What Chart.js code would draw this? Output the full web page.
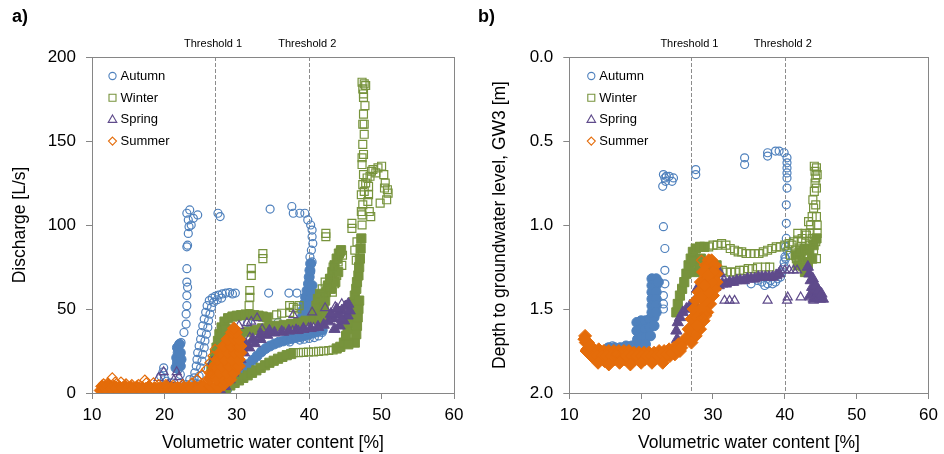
<!DOCTYPE html>
<html>
<head>
<meta charset="utf-8">
<script src="https://cdn.jsdelivr.net/npm/chart.js@4.4.0/dist/chart.umd.min.js"></script>
<style>
  html, body { margin: 0; padding: 0; background: #fff; }
  #wrap { position: relative; width: 944px; height: 454px; }
  canvas { position: absolute; top: 0; }
  #chartA { left: 0; }
  #chartB { left: 472px; }
</style>
</head>
<body>
<div id="wrap">
  <canvas id="chartA" width="472" height="454"></canvas>
  <canvas id="chartB" width="472" height="454"></canvas>
</div>
<script>
// ---------- axes / labels ----------
const seasons = ['Autumn', 'Winter', 'Spring', 'Summer'];
const xTicks = [10, 20, 30, 40, 50, 60];
const yTicksA = [0, 50, 100, 150, 200];
const yTicksB = [0, 0.5, 1, 1.5, 2];
const thresholds = [27, 40];
const thresholdLabels = ['Threshold 1', 'Threshold 2'];

// ---------- a) discharge vs soil moisture ----------
const autumnA = [
  [11.5,1],[12.2,0.5],[14,1],[16,1.5],[17,2],[18.5,3],[19.5,10],[19.8,12.5],[19.9,15],[20,9],[20.3,7],[20.5,4],[21,6],[21.9,14],[22.2,11],[23,5],[23.5,8],
  [22.3,30],[22.7,36],[23,41],[23,47],[23.1,52],[23.1,58],[23.2,63],[23.1,66],[23.1,74],[23.1,87],[23.2,88],[23.3,95],[23.4,99],[23.3,103],[23.1,107],[23.5,109],[24,104],[24.6,106],[23.7,100],
  [27.4,107],[27.7,105],[34.6,109.5],[37.6,111],[37.8,107],[38.7,107],[39.4,107],
  [39.8,103],[40.2,100],[40.4,97],[40.4,93],[40.5,89],[40.3,85],[40.1,81],[40.4,78],[40.2,72],
  [29.8,59.5],[29.4,59],[34.4,59.5],[37.2,59.5],[38.3,59.5],
  [31.5,42],[35.7,42],[37.3,30.4],[38.7,31.5],[39.3,32],[40,32.5],[40.7,33],[41.3,34],[41.8,36],
  [23.8,3],[24,6],[24.1,9],[24.2,12],[24.4,16],[24.5,20],[24.6,24],[24.8,28],[25,32],[25.1,36],[25.3,40],[25.5,44],[25.7,48],[25.9,52],[26.2,55],[26.6,56.5],[27,57.5],[27.5,58.3],[28,59],[28.5,59.5],[29,59.8],
  [24.6,5],[24.8,10],[25,15],[25.2,19],[25.3,23],[25.5,27],[25.6,31],[25.8,35],[26,39],[26.1,43],[26.3,47],[26.5,51],[26.8,54],[27.3,55.5],[27.9,56.5]
];
const autumnADense = [
  [21.6,15],[21.8,18],[21.7,21],[21.9,24],[21.8,27],[22.1,29],[22.2,16],[22.3,20],[22.2,24],
  [28.6,2],[29.2,5],[29.8,8],[30.4,11],[31,14],[31.6,17],[32.2,19.5],[32.8,22],[33.4,24.5],[34,26.5],[34.6,28],[35.2,29.2],[35.8,30.2],[36.4,31],[37,31.8],[37.6,32.4],[38.2,33],[38.8,33.5],[39.4,34.2],[40,35],[40.6,35.8],[41.2,36.6],[41.8,37.4],
  [38.8,37],[38.9,41],[39,45],[39.1,49],[39.3,53],[39.5,57],[39.7,61],[39.9,65],[40,69],[40.1,73],[40.2,77],[40.3,60],[40.4,64],[40.2,56],[40,52],[39.8,48]
];
const winterA = [
  [47.3,100],[47.3,106],[47.4,112],[47.2,118],[47.4,124],[47.5,130],[47.3,136],[47.5,142],[47.4,148],[47.6,154],[47.4,160],[47.5,166],[47.7,171],[47.5,176],[47.4,181],[47.6,184],[47.3,185],[47.8,183],[47.5,178],[47.6,160],[47.3,140],[47.6,120],[47.2,108],
  [48,128],[48.4,129],[48.2,123],[48.6,132],[48.8,133],[49.2,131],[49.5,134],[50,135],[50.3,130],[50.5,125],[50.9,119],[50.7,115],[50.4,122],[50.8,121],[49.8,113],[48.2,118],[47.8,125],[48.5,105],[48.3,108],[48.1,114],
  [45.9,101],[45.9,98],[46.5,79],[46.3,85],[46.6,90],[46.8,70],[42.3,93],[42.3,95],[32,74],[32,70],[33.6,80],[33.6,83],[31.7,52],[31.8,57],[31.8,61],[31.2,47],
  [35.5,46.5],[36.2,47.5],[37.3,48],[37.3,52],[37.8,51],[38.3,50],[38.6,52],
  [37.8,24],[38.5,24],[39.2,24.2],[39.9,24.4],[40.6,24.5],[41.3,24.8],[42,25],[42.7,25.3],[43.3,25.6],
  [43.2,60],[43.5,65],[43.8,70],[43.3,75],[43.9,80],[44.3,84],[44,78],[42.8,68],[42.5,63],[41.5,58],[41.8,62],[42.2,66],[44.5,76],[44.6,82]
];
const winterADense = [
  [27.3,0],[27.9,1.5],[28.5,3],[29.1,4.5],[29.7,6],[30.3,7.5],[30.9,9],[31.5,10.5],[32.1,12],[32.7,13.5],[33.3,15],[33.9,16.5],[34.5,18],[35.1,19.2],[35.7,20.4],[36.3,21.5],[36.9,22.5],[37.5,23.2],
  [43.8,26.5],[44.3,27.5],[44.8,30],[45.1,34],[45.3,38],[45.5,42],[45.7,46],[45.9,50],[46.1,54],[46.3,58],[46.5,62],[46.6,66],[46.8,70],[46.9,75],[47,80],[47.1,86],[47.2,92],
  [46.3,30],[46.5,35],[46.6,40],[46.7,45],[46.8,50],[46.9,55],[45.4,29],
  [26.5,15],[26.8,19],[27,23],[27.2,27],[27.4,31],[27.6,35],[27.9,39],[28.3,42.5],[28.8,44.5],[29.4,45.5],[30,46],[30.6,46.3],[31.2,46.5],[31.8,46.5],[32.4,46.3],[33,46],[33.6,45.5],[34.2,45],
  [27.8,30],[28.1,35],[27.5,20],[28.5,38],
  [29.5,33],[30.5,35],[31.5,36.5],[32.5,37.5],[33.5,38.5],[34.5,39.5],[35.5,40],[36.5,40.5],[37.5,41],[38.5,42],[39.5,43],
  [40.6,44],[40.8,48],[41,52],[41.2,56],[41.5,59],[41.8,47],[42,51],[42.2,55],[41.5,44],[42.3,45],
  [42.3,60],[42.6,64],[42.9,68],[43.2,72],[43.5,76],[43.8,80],[44.1,83],[44.4,85],[43,62],[43.6,66],[44,72]
];
const springA = [
  [19.2,9],[19.9,12.5],[21.7,12.5],[22,9.5],[21.3,7.7],[17,2],[16.5,3],[18,4],[20.5,5],[22.5,5],
  [26.6,18.5],[27.3,15.5],[26.8,12.5],[26.2,10],[27.8,20],[28.3,24],[28.8,27],[29.2,30],[30,37],[30.3,40],[31.4,41.7],[32.8,44.6],[32,42.5],[31.8,33],[33.2,33],[33.5,38],
  [37.8,46.4],[40.4,48],[42.2,50.6],[43.6,51.2],[44.5,53],[39.2,38.7],[39.9,38.7],[40.6,38.7],[41.3,39],[38.5,37],[37.7,37],[36.5,36]
];
const springADense = [
  [27.8,1],[28.4,4],[29,8],[29.5,12],[30,16],[30.5,20],[31,24],[31.7,27],[32.5,29.5],[33.3,32],[34.2,34.5],[35.2,35.8],[36.2,36.5],[37.2,37],[38.2,37.3],[39.2,38],[40.2,38.5],[41.2,39.3],[42,40.5],[42.7,42.5],[43.3,44.5],[43.9,46.5],[44.5,49],[45,51.5],[45.4,53],
  [29.6,22],[30.3,26],[31.2,29],[32.2,32],[33.3,35],[34.5,37],
  [43.5,38],[44.2,40],[44.8,43],[45.3,46],[45.6,49],[43,47],[43.8,50],[44.5,44]
];
const summerA = [
  [12.8,9],[13.2,6.5],[12.2,6],[11.6,5.5],[14,6.5],[14.7,5.5],[15.5,5],[16.4,5],[17.3,7.7],[17.5,6],[18.5,6],[19.2,5],[20.2,5],[21.2,4.5],[22.5,5],[23.8,6],
  [24.5,8],[25.2,11],[25.8,14],[26.3,18],[26.7,22],[27,26],[26.2,12]
];
const summerADense = [
  [11.2,1.5],[11.8,1.5],[12.4,1.5],[13,1.5],[13.6,1.5],[14.2,1.5],[14.8,1.5],[15.4,1.5],[16,1.5],[16.6,1.5],[17.2,1.5],[17.8,1.5],[18.4,1.5],[19,1.5],[19.6,1.5],[20.2,1.5],[20.8,1.5],[21.4,1.5],[22,1.5],[22.6,1.5],[23.2,1.5],[23.8,1.5],[24.4,1.5],[25,1.5],[25.6,1.5],[26.2,1.5],[26.8,2],[27.4,2.5],
  [11.4,4],[12.2,4.5],[13,4],[13.8,3.5],[14.6,4],[15.4,3.5],[16.2,3.5],[17,3],[17.8,3.5],[18.6,3],[19.4,3],[20.2,3.5],[21,3],[21.8,3],[22.6,3],[23.4,3.5],[24.2,3.5],[25,4],
  [11.8,3],[12.6,3],[13.4,2.8],[14.2,2.8],[15,2.6],[15.8,2.6],[16.6,2.5],[17.4,2.4],[18.2,2.4],[19,2.4],[19.8,2.4],[20.6,2.4],[21.4,2.3],[22.2,2.3],[23,2.4],[23.8,2.6],[24.6,2.8],
  [25.3,4],[26.3,4],[27.3,4],[28.2,5],[26.2,8],[27.2,8],[28.2,8],[29.1,8],[26.6,12],[27.6,12],[28.6,12],[29.6,12],
  [26.9,16],[27.9,16],[28.9,16],[29.9,16],[30.3,16],[27.3,20],[28.3,20],[29.3,20],[30.3,20],[27.7,24],[28.7,24],[29.7,24],[30.5,24],
  [28.2,28],[29.2,28],[30.2,28],[30.5,28],[28.7,32],[29.6,32],[30.3,32],[29.3,36],[29.9,36],[29.6,38.5]
];

// ---------- b) groundwater depth vs soil moisture ----------
const autumnB = [
  [23.1,0.70],[23.3,0.72],[23.5,0.71],[23.9,0.71],[24.5,0.72],[24.3,0.74],[23,0.77],[23.4,0.74],[27.6,0.67],[27.6,0.70],
  [34.4,0.60],[34.4,0.64],[37.6,0.57],[37.6,0.59],[38.7,0.56],[39.2,0.56],[39.9,0.57],[40.3,0.60],[40.3,0.63],[40.3,0.66],[40.3,0.69],[40.3,0.72],[40.3,0.78],[40.2,0.88],[40.2,0.99],[40.2,1.08],[40.1,1.13],[40,1.19],[39.9,1.22],[39.9,1.25],
  [39.4,1.31],[38.7,1.34],[38,1.33],[37.6,1.35],[36.2,1.33],[35.3,1.35],[36.8,1.34],[37.2,1.36],[38.3,1.35],[39,1.32],[39.6,1.28],[40.3,1.15],[40.1,1.2],
  [23.1,1.01],[23.3,1.14],[23.3,1.27],[23.3,1.35],[23.1,1.42],[23.1,1.47],[23.1,1.50],[14.7,1.75],[16,1.72],[18.3,1.74],[15.3,1.73]
];
const autumnBDense = [
  [15.5,1.73],[16.3,1.73],[17.1,1.73],[17.9,1.72],[18.7,1.72],[19.3,1.71],
  [19.4,1.58],[20,1.57],[20.6,1.57],[21.2,1.56],[21.8,1.55],
  [19.4,1.63],[20,1.62],[20.6,1.62],[21.2,1.61],[21.8,1.60],
  [19.5,1.68],[20.1,1.67],[20.7,1.67],[21.3,1.66],[19.8,1.71],[20.6,1.71],
  [21.5,1.32],[22.1,1.32],[21.5,1.36],[22.1,1.36],[21.5,1.40],[22.1,1.40],[21.5,1.44],[22.1,1.44],[21.5,1.48],[22.1,1.48],[21.5,1.52],[22.1,1.52],[22.4,1.34]
];
const winterB = [
  [27.6,1.14],[28.2,1.13],[28.8,1.13],[29.4,1.13],[30,1.12],[30.6,1.12],[31.2,1.11],[31.8,1.12],[32.4,1.14],[33,1.15],[33.5,1.16],[34,1.16],[34.6,1.17],[35.2,1.17],[35.8,1.17],[36.4,1.17],[37,1.16],[37.6,1.15],[38.2,1.14],[38.8,1.13],[39.4,1.13],[40,1.12],[40.6,1.11],[41.2,1.10],[41.8,1.09],[42.4,1.08],[43,1.06],[43.5,1.05],
  [43.6,1.0],[43.8,0.95],[44,0.9],[43.9,0.85],[44.1,0.8],[44.2,0.75],[44.3,0.72],[44.2,0.68],[44.1,0.65],[44.4,0.66],[44.5,0.70],[44.4,0.78],[44.3,0.88],[44.4,0.95],[44.5,1.0],[44.5,1.05],[43.3,0.98],
  [30.7,1.27],[31.3,1.27],[31.9,1.28],[32.5,1.28],[33.1,1.28],[33.7,1.27],[34.3,1.27],[34.9,1.26],[35.5,1.26],[36.2,1.25],[37.3,1.25],[37.9,1.25],
  [41,1.12],[41.5,1.15],[42,1.2],[42.5,1.25],[43,1.2],[42.3,1.1],[43.5,1.12],[44,1.15],[44.3,1.1],[41.8,1.05],[42.8,1.05],[43.3,1.18],[42,1.15],[42.6,1.22],[41.6,1.2],[44.4,1.2],[40.8,1.18],[43.8,1.08]
];
const winterBDense = [
  [24.9,1.52],[25.1,1.47],[25.4,1.42],[25.7,1.38],[26,1.34],[26.3,1.29],[26.6,1.24],[26.9,1.20],[27.2,1.16],[27.6,1.14],[28.2,1.13],[28.8,1.13],
  [27.5,1.22],[28.3,1.2],[29,1.22],[29.8,1.25],[30.5,1.24],[27.5,1.28],[28.2,1.27],[28.9,1.27],[29.6,1.27],[30.3,1.27],
  [41.5,1.18],[42.2,1.16],[42.8,1.14],[43.4,1.15],[44,1.12],[44.4,1.08],[42.5,1.22],[43.2,1.24],[43.8,1.2],[41.8,1.24],[42.8,1.28]
];
const springB = [
  [31.6,1.45],[32.3,1.45],[33,1.45],[37.6,1.45],[40.3,1.45],[40.4,1.43],[42.2,1.43],[43.5,1.43],[44,1.45],
  [39.4,1.27],[40,1.27],[40.6,1.27],[41.2,1.27],[41.7,1.27]
];
const springBDense = [
  [25,1.68],[24.9,1.63],[25.1,1.58],[25.4,1.55],[25.8,1.52],[26.3,1.50],[26.8,1.48],[27.3,1.46],[27.8,1.44],[28.3,1.42],[28.8,1.41],[29.3,1.39],[29.8,1.38],[30.3,1.37],[30.8,1.36],[31.3,1.35],[31.8,1.35],[32.3,1.34],[32.8,1.34],[33.3,1.33],[33.8,1.33],[34.3,1.33],[34.8,1.32],[35.3,1.32],[35.8,1.32],[36.3,1.31],[36.8,1.31],[37.3,1.31],[37.8,1.31],[38.3,1.31],[38.8,1.30],[39.2,1.29],
  [28.5,1.35],[29.3,1.32],[30.2,1.30],[31,1.29],[27.8,1.38],
  [43.2,1.25],[43.4,1.29],[43.6,1.33],[43.8,1.37],[44.1,1.40],[44.5,1.43],[44.9,1.44],[45.3,1.44],[43.5,1.42],[44,1.44],[43.9,1.32],[44.3,1.36],[44.7,1.39],[45.1,1.41]
];
const summerB = [
  [28.4,1.21],[29.1,1.54],[28.5,1.55],[16.5,1.77]
];
const summerBDense = [
  [12.2,1.66],[12.3,1.70],[12.5,1.74],[12.9,1.77],[13.5,1.79],[14.2,1.80],[14.9,1.81],[15.6,1.80],[16.3,1.80],[17,1.80],[17.7,1.80],[18.4,1.81],[19.1,1.80],[19.8,1.80],[20.5,1.80],[21.2,1.80],[21.9,1.80],[22.6,1.79],[23.3,1.79],[24,1.78],[24.7,1.77],[25.4,1.75],
  [13.4,1.74],[14.1,1.74],[14.8,1.75],[15.5,1.75],[16.2,1.75],[16.9,1.75],[17.6,1.75],[18.3,1.75],[19,1.76],[19.7,1.76],[20.4,1.76],[21.1,1.76],[21.8,1.76],[22.5,1.75],[23.2,1.75],[23.9,1.74],[24.6,1.73],[25.2,1.71],[25.8,1.70],[26.3,1.67],[26.6,1.62],
  [13.1,1.78],[13.8,1.78],[14.5,1.78],[15.2,1.78],[15.9,1.78],[16.6,1.78],[17.3,1.78],[18,1.78],[18.7,1.78],[19.4,1.78],[20.1,1.78],[20.8,1.78],[21.5,1.78],[22.2,1.78],[22.9,1.77],[23.6,1.77],[24.3,1.76],[25,1.74],[25.6,1.73],
  [14,1.82],[15.5,1.83],[17,1.82],[18.5,1.83],[20,1.82],[21.5,1.82],[23,1.82],
  [12.1,1.68],[12.6,1.70],[12.4,1.75],[12.8,1.72],
  [26.8,1.62],[27,1.56],[27.3,1.50],[27.6,1.45],[28,1.40],[28.3,1.34],[28.6,1.28],[29,1.24],[29.4,1.21],[29.8,1.21],
  [30.3,1.24],[30.5,1.29],[30.5,1.34],[30.3,1.38],[30,1.42],[29.6,1.47],[29.2,1.52],[28.7,1.57],[28.2,1.62],[27.6,1.66],[27,1.70],
  [27.8,1.55],[28.4,1.50],[28.9,1.45],[29.4,1.40],[29.8,1.34],[30,1.28],[29.3,1.30],[28.8,1.36],[28.3,1.43],[27.8,1.60]
];

// ---------- styling ----------
const colors = { Autumn: '#4F81BD', Winter: '#77933C', Spring: '#5F4B8B', Summer: '#E46C0A' };
const shapes = { Autumn: 'circle', Winter: 'rect', Spring: 'triangle', Summer: 'rectRot' };
const hollowRadius = { circle: 4, rect: 5.6, triangle: 5.2, rectRot: 5 };
const denseRadius = { circle: 5, rect: 6.5, triangle: 6.5, rectRot: 6.5 };
const axisColor = '#868686';
const fontFamily = '"Liberation Sans", Arial, sans-serif';
// keep markers above the x axis line, let them spill a little elsewhere
const markerClip = { left: 8, top: 8, right: 8, bottom: 0 };

function seasonSets(name, hollow, dense, order) {
  const c = colors[name], s = shapes[name];
  return [
    { label: name + ' dense', data: dense, pointStyle: s, pointRadius: denseRadius[s], clip: markerClip,
      backgroundColor: c, borderColor: c, borderWidth: 1, order: order + 1 },
    { label: name, data: hollow, pointStyle: s, pointRadius: hollowRadius[s], clip: markerClip,
      backgroundColor: 'rgba(255,255,255,0)', borderColor: c, borderWidth: 1.2, order: order }
  ];
}

function drawMarker(ctx, style, x, y, color) {
  ctx.save();
  ctx.strokeStyle = color;
  ctx.lineWidth = 1.1;
  ctx.beginPath();
  if (style === 'circle') ctx.arc(x, y, 3.6, 0, Math.PI * 2);
  else if (style === 'rect') ctx.rect(x - 3.5, y - 3.5, 7, 7);
  else if (style === 'triangle') { ctx.moveTo(x, y - 4.5); ctx.lineTo(x + 4.3, y + 3); ctx.lineTo(x - 4.3, y + 3); ctx.closePath(); }
  else { ctx.moveTo(x, y - 4); ctx.lineTo(x + 4, y); ctx.lineTo(x, y + 4); ctx.lineTo(x - 4, y); ctx.closePath(); }
  ctx.stroke();
  ctx.restore();
}

// thresholds, frame, legend and panel letter
function decor(p) {
  return {
    id: 'decor',
    beforeDatasetsDraw(chart) {
      const { ctx, chartArea: a, scales: { x } } = chart;
      ctx.save();
      ctx.strokeStyle = '#8c8c8c';
      ctx.lineWidth = 1;
      ctx.setLineDash([4, 2]);
      thresholds.forEach(t => {
        const px = Math.round(x.getPixelForValue(t)) + 0.5;
        ctx.beginPath();
        ctx.moveTo(px, a.top);
        ctx.lineTo(px, a.bottom);
        ctx.stroke();
      });
      ctx.restore();
    },
    afterDraw(chart) {
      const { ctx, chartArea: a, scales: { x } } = chart;
      ctx.save();
      // plot frame
      ctx.strokeStyle = axisColor;
      ctx.lineWidth = 1;
      ctx.strokeRect(Math.round(a.left) + 0.5, Math.round(a.top) + 0.5, Math.round(a.right - a.left), Math.round(a.bottom - a.top));
      // threshold captions
      ctx.fillStyle = '#000';
      ctx.font = '11px ' + fontFamily;
      ctx.textAlign = 'center';
      ctx.textBaseline = 'alphabetic';
      thresholds.forEach((t, i) => ctx.fillText(thresholdLabels[i], x.getPixelForValue(t) - 2, 47));
      // legend
      ctx.font = '13px ' + fontFamily;
      ctx.textAlign = 'left';
      ctx.textBaseline = 'middle';
      seasons.forEach((s, i) => {
        const y = a.top + 19 + i * 21.7;
        drawMarker(ctx, shapes[s], a.left + p.legendX, y, colors[s]);
        ctx.fillStyle = '#000';
        ctx.fillText(s, a.left + p.legendX + 8, y + 0.5);
      });
      // panel letter
      ctx.font = 'bold 18px ' + fontFamily;
      ctx.textBaseline = 'alphabetic';
      ctx.fillText(p.letter, p.letterX, 22);
      ctx.restore();
    }
  };
}

function buildChart(id, p) {
  return new Chart(document.getElementById(id).getContext('2d'), {
    type: 'scatter',
    data: { datasets: p.datasets },
    options: {
      responsive: false,
      animation: false,
      devicePixelRatio: 1,
      layout: { padding: { left: 0, top: 57, right: p.padRight, bottom: 0 } },
      plugins: { legend: { display: false }, tooltip: { enabled: false } },
      scales: {
        x: {
          type: 'linear', min: 10, max: 60,
          afterBuildTicks: s => { s.ticks = xTicks.map(v => ({ value: v })); },
          afterFit: s => { s.height = 61; },
          grid: { drawOnChartArea: false, drawTicks: true, tickLength: 6, color: axisColor },
          border: { color: axisColor, width: 1 },
          ticks: { padding: 6, color: '#000', font: { family: fontFamily, size: 17 }, maxRotation: 0 },
          title: { display: true, text: 'Volumetric water content [%]', color: '#000',
                   font: { family: fontFamily, size: 17.5 }, padding: { top: 0, bottom: 0.5 } }
        },
        y: {
          type: 'linear', min: p.yTicks[0], max: p.yTicks[p.yTicks.length - 1], reverse: p.reverse,
          afterBuildTicks: s => { s.ticks = p.yTicks.map(v => ({ value: v })); },
          afterFit: s => { s.width = p.yWidth; },
          grid: { drawOnChartArea: false, drawTicks: true, tickLength: 6, color: axisColor },
          border: { color: axisColor, width: 1 },
          ticks: { padding: 10, color: '#000', font: { family: fontFamily, size: 17 }, callback: p.tickFmt },
          title: { display: true, text: p.yTitle, color: '#000',
                   font: { family: fontFamily, size: 17.5 }, padding: { top: p.yTitlePad, bottom: 0 } }
        }
      }
    },
    plugins: [decor(p)]
  });
}

buildChart('chartA', {
  letter: 'a)', letterX: 12, legendX: 20.5, padRight: 18, yWidth: 92, yTitlePad: 10,
  yTicks: yTicksA, reverse: false, tickFmt: v => String(v),
  yTitle: 'Discharge [L/s]',
  datasets: [
    ...seasonSets('Autumn', autumnA, autumnADense, 7),
    ...seasonSets('Winter', winterA, winterADense, 5),
    ...seasonSets('Spring', springA, springADense, 3),
    ...seasonSets('Summer', summerA, summerADense, 1)
  ]
});

buildChart('chartB', {
  letter: 'b)', letterX: 6, legendX: 22, padRight: 11.7, yWidth: 97.3, yTitlePad: 17.5,
  yTicks: yTicksB, reverse: true, tickFmt: v => Number(v).toFixed(1),
  yTitle: 'Depth to groundwater level, GW3 [m]',
  datasets: [
    ...seasonSets('Autumn', autumnB, autumnBDense, 7),
    ...seasonSets('Winter', winterB, winterBDense, 5),
    ...seasonSets('Spring', springB, springBDense, 3),
    ...seasonSets('Summer', summerB, summerBDense, 1)
  ]
});
</script>
</body>
</html>
